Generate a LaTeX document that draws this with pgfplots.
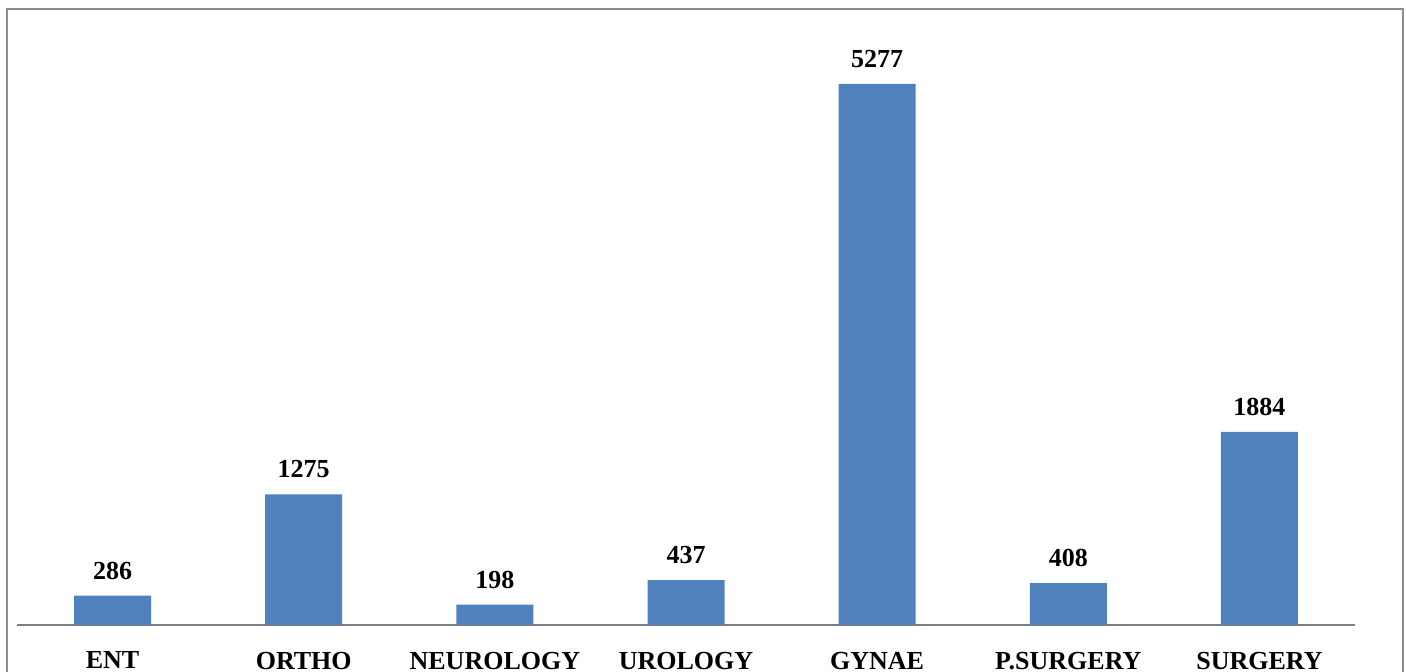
\documentclass[border=0pt]{standalone}
\usepackage{pgfplots}
\pgfplotsset{compat=1.18}
\usepackage{fontspec}
\setmainfont{Liberation Serif}
\definecolor{barblue}{HTML}{4F81BD}
\definecolor{framegray}{RGB}{140,140,140}
\definecolor{axisgray}{RGB}{128,128,128}
\begin{document}
\begin{tikzpicture}
\begin{axis}[
  at={(0,0)}, anchor=south west,
  scale only axis,
  width=669pt, height=307.6pt,
  xmin=-0.5, xmax=6.5,
  ymin=0, ymax=6000,
  axis x line=bottom,
  axis y line=none,
  x axis line style={-, draw=axisgray, line width=1pt},
  xtick={0,...,6},
  xticklabels={ENT,ORTHO,NEUROLOGY,UROLOGY,GYNAE,P.SURGERY,SURGERY},
  xtick style={draw=none},
  xticklabel style={font=\fontsize{13}{15}\selectfont\bfseries, inner sep=0pt, anchor=north, yshift=-9pt},
  ybar, bar width=38.5pt,
  nodes near coords,
  /pgf/number format/assume math mode=true,
  /pgf/number format/1000 sep={},
  every node near coord/.append style={font=\fontsize{13}{15}\selectfont\bfseries, inner sep=0pt, anchor=south, yshift=8pt, text=black},
  clip=false,
]
\addplot[fill=barblue, draw=none] coordinates {
  (0,286) (1,1275) (2,198) (3,437) (4,5277) (5,408) (6,1884)
};
\end{axis}
\draw[framegray, line width=1pt] (-5pt,-40pt) rectangle (693pt,308pt);
\pgfresetboundingbox
\path[use as bounding box] (-8.5pt,-23.5pt) rectangle (694.5pt,312.5pt);
\end{tikzpicture}
\end{document}
